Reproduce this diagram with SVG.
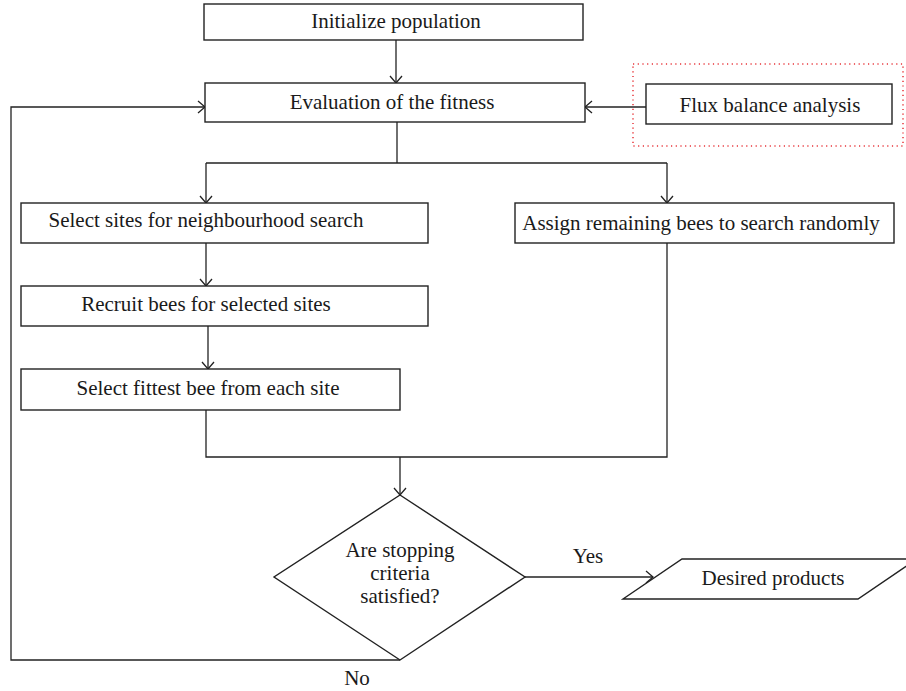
<svg xmlns="http://www.w3.org/2000/svg" width="906" height="691" viewBox="0 0 906 691">
<style>
.box{fill:#fff;stroke:#222;stroke-width:1.4}
.t{font-family:"Liberation Serif","Times New Roman",serif;font-size:21px;fill:#1a1a1a;text-anchor:middle}
.c{fill:none;stroke:#222;stroke-width:1.3}
</style>
<defs>
<marker id="ah" markerUnits="userSpaceOnUse" markerWidth="12" markerHeight="14" refX="8" refY="7" orient="auto">
<path d="M1,1 L8,7 L1,13" fill="none" stroke="#222" stroke-width="1.3"/>
</marker>
</defs>
<rect x="633" y="64" width="270" height="82" fill="none" stroke="#e8353a" stroke-width="1.5" stroke-dasharray="1.2 3.5"/>
<g id="connectors">
<path class="c" d="M396,40 V83" marker-end="url(#ah)"/>
<path class="c" d="M646,107 H585" marker-end="url(#ah)"/>
<path class="c" d="M400,660 H11 V107 H205" marker-end="url(#ah)"/>
<path class="c" d="M397,122 V163"/>
<path class="c" d="M206,163 H667"/>
<path class="c" d="M206,163 V203" marker-end="url(#ah)"/>
<path class="c" d="M667,163 V203" marker-end="url(#ah)"/>
<path class="c" d="M206,243 V286" marker-end="url(#ah)"/>
<path class="c" d="M208,326 V369" marker-end="url(#ah)"/>
<path class="c" d="M206,410 V457 H667 V243"/>
<path class="c" d="M400,457 V495" marker-end="url(#ah)"/>
<path class="c" d="M525,577 H653" marker-end="url(#ah)"/>
<text class="t" x="588" y="563">Yes</text>
<text class="t" x="357" y="685">No</text>
</g>
<g id="init"><rect class="box" x="204" y="4" width="379" height="36"/><text class="t" x="396" y="28">Initialize population</text></g>
<g id="eval"><rect class="box" x="205" y="83" width="380" height="39"/><text class="t" x="392" y="109">Evaluation of the fitness</text></g>
<g id="flux"><rect class="box" x="646" y="84" width="246" height="40"/><text class="t" x="770" y="112">Flux balance analysis</text></g>
<g id="select"><rect class="box" x="21" y="203" width="407" height="40"/><text class="t" x="206" y="227">Select sites for neighbourhood search</text></g>
<g id="assign"><rect class="box" x="515" y="203" width="379" height="40"/><text class="t" x="701" y="230">Assign remaining bees to search randomly</text></g>
<g id="recruit"><rect class="box" x="21" y="286" width="407" height="40"/><text class="t" x="206" y="311">Recruit bees for selected sites</text></g>
<g id="fittest"><rect class="box" x="21" y="369" width="379" height="41"/><text class="t" x="208" y="395">Select fittest bee from each site</text></g>
<g id="decision"><path class="box" d="M400,495 L525,577 L400,660 L274,577 Z"/>
<text class="t" x="400" y="557">Are stopping</text>
<text class="t" x="400" y="580">criteria</text>
<text class="t" x="400" y="603">satisfied?</text></g>
<g id="output"><path class="box" d="M682,559 L917,559 L858,599 L623,599 Z"/><text class="t" x="773" y="585">Desired products</text></g>
</svg>
